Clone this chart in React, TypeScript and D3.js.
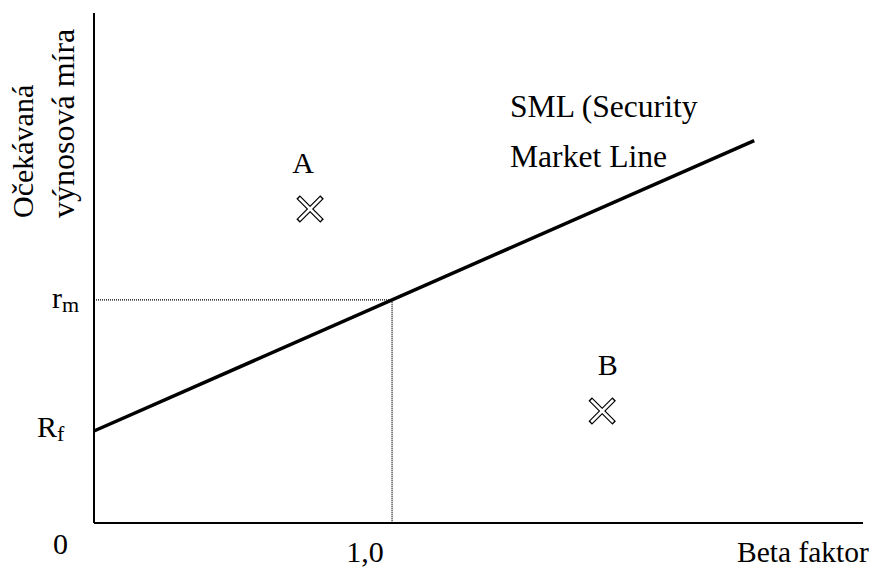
import React from "react";
import * as d3 from "d3";

const W = 874;
const H = 569;

// Data (beta, expected return in arbitrary %)
const riskFree = 4;
const marketReturn = 9.7;
const marketBeta = 1.0;
const smlBetaEnd = 2.215;
const betaMax = 2.58;
const returnMax = 22.17;

const points = [
  { name: "A", beta: 0.725, ret: 13.65 },
  { name: "B", beta: 1.705, ret: 4.87 },
];

const yLabelLines = ["Očekávaná", "výnosová míra"];
const smlLabelLines = ["SML (Security", "Market Line"];
const xTickLabel = "1,0";
const xAxisTitle = "Beta faktor";

const FONT = "Liberation Serif, Times New Roman, Tinos, DejaVu Serif, serif";

// label layout (not data)
const pointLabelDx: Record<string, number> = { A: -7, B: 5.5 };
const yLabelSizes = [30, 32];

export default function App() {
  const x = d3.scaleLinear().domain([0, betaMax]).range([94, 863]);
  const y = d3.scaleLinear().domain([0, returnMax]).range([523, 13]);

  const sml = d3
    .line<number>()
    .x((b) => x(b))
    .y((b) => y(riskFree + b * (marketReturn - riskFree)));

  const fs = 29;
  const arm = 12;
  const armIn = 11;
  const ts = (size: number = fs): React.CSSProperties => ({ fontFamily: FONT, fontSize: size });

  return (
    <svg
      width={W}
      height={H}
      style={{ position: "absolute", left: 0, top: 0, background: "#fff" }}
    >
      <rect width={W} height={H} fill="#fff" />
      {/* dotted guides */}
      <line
        x1={x(0)}
        x2={x(marketBeta)}
        y1={y(marketReturn)}
        y2={y(marketReturn)}
        stroke="#000"
        strokeWidth={1.3}
        strokeDasharray="1,1"
      />
      <line
        x1={x(marketBeta)}
        x2={x(marketBeta)}
        y1={y(marketReturn)}
        y2={y(0)}
        stroke="#000"
        strokeWidth={1.3}
        strokeDasharray="1,1"
      />
      {/* axes */}
      <line x1={x(0)} x2={x(0)} y1={y(returnMax)} y2={y(0)} stroke="#000" strokeWidth={2} />
      <line x1={x(0)} x2={x(betaMax)} y1={y(0)} y2={y(0)} stroke="#000" strokeWidth={2} />
      {/* SML */}
      <path d={sml([0, smlBetaEnd]) || ""} fill="none" stroke="#000" strokeWidth={3.5} />

      {/* points */}
      {points.map((p) => {
        const cx = x(p.beta);
        const cy = y(p.ret);
        return (
          <g key={p.name}>
            <line x1={cx - arm} y1={cy - arm} x2={cx + arm} y2={cy + arm} stroke="#000" strokeWidth={5} />
            <line x1={cx - arm} y1={cy + arm} x2={cx + arm} y2={cy - arm} stroke="#000" strokeWidth={5} />
            <line x1={cx - armIn} y1={cy - armIn} x2={cx + armIn} y2={cy + armIn} stroke="#fff" strokeWidth={2.6} />
            <line x1={cx - armIn} y1={cy + armIn} x2={cx + armIn} y2={cy - armIn} stroke="#fff" strokeWidth={2.6} />
            <text x={cx + (pointLabelDx[p.name] || 0)} y={cy - 36} style={ts(30)} textAnchor="middle">
              {p.name}
            </text>
          </g>
        );
      })}

      {/* SML label */}
      {smlLabelLines.map((t, i) => (
        <text key={t} x={510} y={117 + i * 50} style={ts(31.6)}>
          {t}
        </text>
      ))}

      {/* y labels */}
      <text x={52} y={308} style={ts(30)}>
        r<tspan style={{ fontSize: 22 }} dy={4}>m</tspan>
      </text>
      <text x={37} y={437} style={ts(30)}>
        R<tspan style={{ fontSize: 22 }} dy={4}>f</tspan>
      </text>
      <text x={53} y={554} style={ts(30)}>
        0
      </text>

      {/* x labels */}
      <text x={x(marketBeta) - 27} y={562} style={ts(30)} textAnchor="middle">
        {xTickLabel}
      </text>
      <text x={737} y={562} style={ts(29.5)}>
        {xAxisTitle}
      </text>

      {/* y axis title */}
      {yLabelLines.map((t, i) => (
        <text
          key={t}
          transform={`translate(${33 + i * 41},218) rotate(-90)`}
          style={ts(yLabelSizes[i])}
        >
          {t}
        </text>
      ))}
    </svg>
  );
}
